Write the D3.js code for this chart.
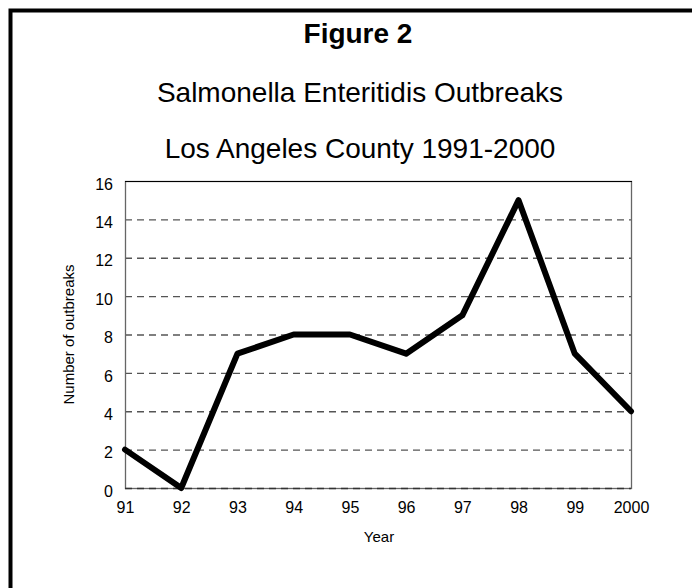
<!DOCTYPE html>
<html>
<head>
<meta charset="utf-8">
<script src="https://cdn.jsdelivr.net/npm/d3@7"></script>
<style>
  body { margin: 0; background: #fff; }
  svg text { font-family: Arial, "Liberation Sans", sans-serif; fill: #000; }
</style>
</head>
<body>
<svg id="chart" width="692" height="588"></svg>
<script>
// data
var years = ["91", "92", "93", "94", "95", "96", "97", "98", "99", "2000"];
var outbreaks = [2, 0, 7, 8, 8, 7, 9, 15, 7, 4];
var yTicks = [0, 2, 4, 6, 8, 10, 12, 14, 16];

var svg = d3.select("#chart");

// frame (only top and left edges show in the picture)
svg.append("path")
  .attr("d", "M10.5,700 L10.5,10.5 L700,10.5")
  .attr("fill", "none")
  .attr("stroke", "#000")
  .attr("stroke-width", 4);

// titles
var cx = 358;
svg.append("text").attr("x", cx).attr("y", 43)
  .attr("text-anchor", "middle").style("font-size", "28px").style("font-weight", "bold")
  .text("Figure 2");
svg.append("text").attr("x", cx + 2).attr("y", 102)
  .attr("text-anchor", "middle").style("font-size", "28px")
  .text("Salmonella Enteritidis Outbreaks");
svg.append("text").attr("x", cx + 2).attr("y", 158)
  .attr("text-anchor", "middle").style("font-size", "28px")
  .text("Los Angeles County 1991-2000");

// plot area
var plotL = 125, plotR = 631, plotT = 181, plotB = 488;

var x = d3.scalePoint().domain(years).range([plotL, plotR]);
var y = d3.scaleLinear().domain([0, 16]).range([plotB, plotT]);

// dashed gridlines
svg.append("g")
  .selectAll("line")
  .data(yTicks.filter(function(d) { return d > 0 && d < 16; }))
  .enter()
  .append("line")
  .attr("x1", plotL)
  .attr("x2", plotR)
  .attr("y1", function(d) { return y(d) + 0.5; })
  .attr("y2", function(d) { return y(d) + 0.5; })
  .attr("stroke", "#555")
  .attr("stroke-width", 1.3)
  .attr("stroke-dasharray", "7,5");

// plot border
svg.append("rect")
  .attr("x", plotL + 0.5).attr("y", plotT + 0.5)
  .attr("width", plotR - plotL).attr("height", plotB - plotT)
  .attr("fill", "none")
  .attr("stroke", "#666")
  .attr("stroke-width", 1.3);
svg.append("line")
  .attr("x1", plotL).attr("x2", plotR + 1)
  .attr("y1", plotT + 0.5).attr("y2", plotT + 0.5)
  .attr("stroke", "#000");
svg.append("line")
  .attr("x1", plotL).attr("x2", plotR)
  .attr("y1", plotB + 0.5).attr("y2", plotB + 0.5)
  .attr("stroke", "#333")
  .attr("stroke-width", 1.5)
  .attr("stroke-dasharray", "7,5");

// axes (labels only, no tick marks)
var yAxis = d3.axisLeft(y).tickValues(yTicks).tickSize(0).tickPadding(12);
svg.append("g")
  .attr("transform", "translate(" + plotL + ",3)")
  .call(yAxis)
  .call(function(g) { g.select(".domain").remove(); })
  .selectAll("text")
  .style("font-size", "16px")
  .attr("fill", "#000");

var xAxis = d3.axisBottom(x).tickSize(0).tickPadding(14);
svg.append("g")
  .attr("transform", "translate(0," + plotB + ")")
  .call(xAxis)
  .call(function(g) { g.select(".domain").remove(); })
  .selectAll("text")
  .style("font-size", "16px")
  .attr("fill", "#000");

svg.selectAll(".tick text").style("font-family", "Arial, 'Liberation Sans', sans-serif");

// axis titles
svg.append("text")
  .attr("x", 379).attr("y", 542)
  .attr("text-anchor", "middle").style("font-size", "15px")
  .text("Year");
svg.append("text")
  .attr("transform", "translate(74," + (plotT + plotB) / 2 + ") rotate(-90)")
  .attr("text-anchor", "middle").style("font-size", "15px")
  .text("Number of outbreaks");

// the series line
var line = d3.line()
  .x(function(d, i) { return x(years[i]); })
  .y(function(d) { return y(d); });

svg.append("path")
  .datum(outbreaks)
  .attr("d", line)
  .attr("fill", "none")
  .attr("stroke", "#000")
  .attr("stroke-width", 6)
  .attr("stroke-linejoin", "round")
  .attr("stroke-linecap", "round");
</script>
</body>
</html>
